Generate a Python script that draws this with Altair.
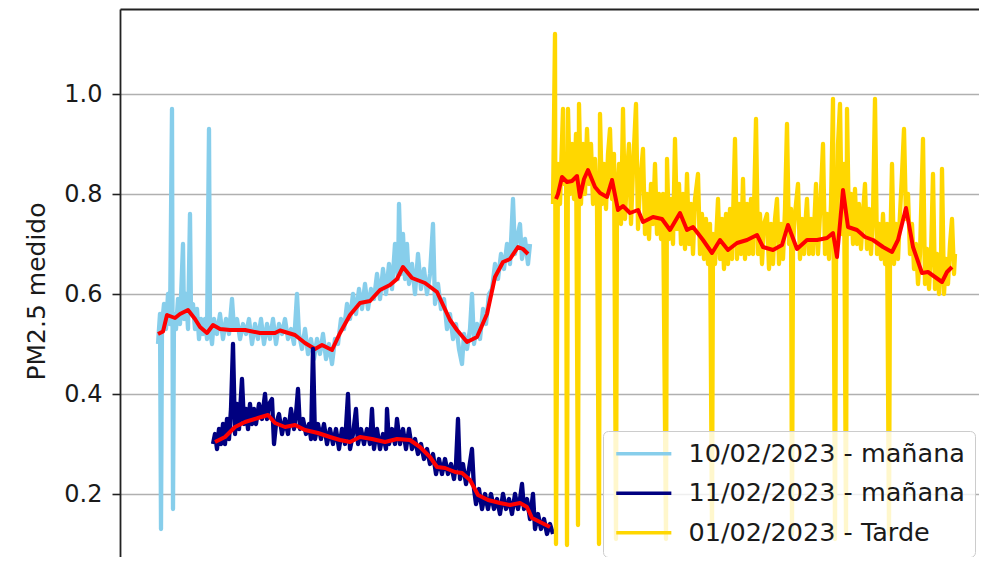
import altair as alt
import pandas as pd

SERIES = ["10/02/2023 - mañana", "11/02/2023 - mañana", "01/02/2023 - Tarde"]
COLORS = ["#87CEEB", "#000080", "#FFD700"]
Y_TICKS = [0.2, 0.4, 0.6, 0.8, 1.0]
Y_TITLE = "PM2.5 medido"

# (sample position, PM2.5)
lb_raw = [(158,0.50),(160,0.56),(161,0.13),(162,0.54),(164,0.58),(166,0.53),(168,0.60),(170,0.54),
          (172,0.97),(173,0.17),(174,0.56),(176,0.53),(178,0.59),(180,0.54),(183,0.70),(184,0.55),
          (186,0.60),(188,0.53),(190,0.76),(191,0.56),(193,0.58),(195,0.53),(197,0.57),(199,0.51),
          (201,0.55),(203,0.52),(205,0.55),(207,0.51),(209,0.93),(210,0.53),(212,0.50),(214,0.55),
          (217,0.52),(220,0.56),(223,0.51),(226,0.55),(229,0.52),(232,0.59),(234,0.53),(237,0.55),
          (240,0.51),(243,0.54),(246,0.52),(249,0.55),(252,0.50),(255,0.54),(258,0.51),(261,0.55),
          (264,0.50),(267,0.54),(270,0.51),(273,0.55),(276,0.50),(279,0.54),(282,0.52),(285,0.55),
          (288,0.51),(291,0.53),(294,0.50),(297,0.60),(299,0.52),(302,0.49),(305,0.53),(308,0.48),
          (311,0.51),(314,0.47),(317,0.51),(320,0.48),(323,0.52),(326,0.47),(329,0.50),(332,0.46),
          (335,0.51),(338,0.50),(341,0.55),(344,0.53),(347,0.58),(350,0.55),(353,0.60),(356,0.56),
          (359,0.61),(362,0.57),(365,0.62),(368,0.57),(371,0.61),(374,0.59),(377,0.64),(380,0.59),
          (383,0.65),(386,0.60),(389,0.66),(392,0.61),(395,0.70),(398,0.63),(399,0.78),(401,0.64),
          (403,0.72),(405,0.63),(407,0.70),(409,0.62),(412,0.66),(415,0.60),(418,0.68),(421,0.61),
          (424,0.65),(427,0.60),(430,0.64),(433,0.74),(435,0.58),(438,0.62),(441,0.57),(444,0.59),
          (447,0.53),(450,0.56),(453,0.51),(456,0.54),(459,0.49),(462,0.46),(464,0.52),(467,0.49),
          (470,0.53),(472,0.60),(474,0.50),(477,0.54),(480,0.51),(483,0.57),(486,0.54),(489,0.60),
          (492,0.61),(495,0.66),(498,0.63),(501,0.68),(504,0.65),(507,0.70),(510,0.66),(513,0.79),
          (515,0.68),(518,0.72),(520,0.74),(522,0.67),(525,0.71),(528,0.66),(530,0.70)]

lb_smooth = [(158,0.52),(163,0.525),(167,0.558),(175,0.552),(180,0.56),(188,0.568),(195,0.55),
             (200,0.534),(207,0.522),(213,0.538),(220,0.53),(230,0.528),(245,0.528),(260,0.522),
             (275,0.522),(280,0.527),(295,0.518),(305,0.502),(315,0.49),(322,0.498),(332,0.488),
             (340,0.522),(350,0.558),(360,0.582),(370,0.586),(380,0.608),(390,0.618),(397,0.63),
             (403,0.654),(412,0.632),(425,0.622),(437,0.604),(450,0.548),(457,0.528),(467,0.504),
             (477,0.514),(487,0.56),(495,0.634),(503,0.664),(510,0.67),(518,0.694),(523,0.69),
             (528,0.68)]

nv_raw = [(213,0.30),(215,0.32),(217,0.29),(219,0.33),(221,0.30),(223,0.34),(225,0.30),(227,0.35),
          (229,0.31),(231,0.37),(233,0.50),(235,0.32),(237,0.38),(239,0.33),(242,0.43),(244,0.34),
          (246,0.37),(248,0.33),(250,0.38),(252,0.34),(254,0.37),(256,0.34),(259,0.38),(262,0.35),
          (265,0.40),(267,0.35),(269,0.38),(272,0.39),(274,0.30),(276,0.34),(279,0.36),(282,0.32),
          (285,0.35),(288,0.32),(291,0.37),(294,0.33),(296,0.36),(298,0.41),(300,0.33),(303,0.35),
          (306,0.32),(309,0.34),(311,0.31),(313,0.49),(315,0.31),(318,0.34),(321,0.31),(324,0.34),
          (327,0.30),(330,0.33),(333,0.30),(336,0.33),(339,0.29),(342,0.33),(345,0.30),(348,0.40),
          (350,0.29),(353,0.32),(356,0.37),(358,0.30),(361,0.33),(364,0.30),(367,0.33),(370,0.30),
          (372,0.37),(374,0.29),(377,0.33),(380,0.29),(383,0.32),(386,0.29),(387,0.37),(389,0.30),
          (392,0.33),(395,0.30),(397,0.35),(400,0.30),(403,0.33),(406,0.29),(409,0.33),(412,0.29),
          (415,0.31),(418,0.28),(421,0.30),(424,0.27),(427,0.29),(430,0.26),(433,0.28),(436,0.24),
          (439,0.27),(442,0.24),(445,0.27),(448,0.24),(451,0.26),(454,0.23),(456,0.26),(458,0.35),
          (460,0.23),(463,0.26),(466,0.22),(469,0.25),(472,0.29),(474,0.21),(476,0.18),(479,0.21),
          (482,0.17),(485,0.20),(488,0.17),(491,0.20),(494,0.17),(497,0.19),(500,0.16),(503,0.20),
          (506,0.17),(509,0.19),(512,0.16),(515,0.20),(518,0.17),(520,0.19),(522,0.22),(524,0.17),
          (527,0.19),(530,0.15),(533,0.20),(535,0.13),(538,0.16),(541,0.13),(544,0.15),(547,0.12),
          (550,0.14),(553,0.12)]

nv_smooth = [(215,0.304),(225,0.314),(235,0.334),(245,0.344),(258,0.352),(268,0.358),(275,0.342),
             (285,0.334),(295,0.338),(305,0.328),(318,0.322),(330,0.314),(340,0.308),(350,0.304),
             (360,0.314),(372,0.31),(385,0.304),(397,0.31),(410,0.308),(420,0.294),(430,0.274),
             (437,0.254),(445,0.252),(455,0.244),(462,0.242),(470,0.228),(478,0.198),(488,0.188),
             (500,0.182),(510,0.178),(520,0.182),(527,0.174),(532,0.152),(540,0.144),(550,0.134)]

gd_raw = [(553,0.78),(555,1.12),(556,0.10),(558,0.86),(560,0.78),(563,0.97),(564,0.82),(566,0.88),
          (567,0.098),(568,0.97),(570,0.80),(572,0.90),(574,0.79),(576,0.92),(578,0.138),(579,0.98),
          (581,0.78),(583,0.90),(585,0.80),(587,0.93),(589,0.82),(591,0.90),(593,0.78),(595,0.87),
          (597,0.78),(599,0.10),(600,0.96),(602,0.78),(604,0.86),(606,0.77),(608,0.88),(610,0.93),
          (612,0.79),(614,0.88),(616,0.11),(617,0.80),(619,0.86),(621,0.74),(623,0.97),(625,0.75),
          (627,0.84),(629,0.90),(631,0.74),(633,0.85),(636,0.98),(638,0.73),(640,0.82),(643,0.89),
          (645,0.72),(647,0.80),(649,0.71),(651,0.82),(653,0.74),(655,0.86),(657,0.72),(659,0.80),
          (661,0.71),(663,0.80),(666,0.11),(667,0.87),(669,0.71),(671,0.79),(673,0.70),(675,0.91),
          (677,0.73),(679,0.82),(681,0.70),(683,0.80),(685,0.69),(687,0.84),(689,0.70),(691,0.78),
          (693,0.68),(695,0.79),(698,0.84),(700,0.68),(702,0.76),(704,0.67),(706,0.75),(708,0.66),
          (710,0.74),(712,0.12),(713,0.72),(715,0.66),(718,0.79),(720,0.67),(722,0.75),(724,0.65),
          (726,0.76),(728,0.66),(730,0.77),(732,0.67),(735,0.91),(737,0.67),(739,0.78),(741,0.68),
          (743,0.83),(745,0.67),(747,0.78),(749,0.68),(751,0.79),(753,0.68),(756,0.95),(758,0.68),
          (760,0.76),(762,0.66),(764,0.74),(767,0.76),(769,0.65),(771,0.74),(773,0.66),(775,0.75),
          (777,0.79),(779,0.66),(781,0.74),(783,0.67),(785,0.77),(787,0.94),(789,0.70),(791,0.77),
          (792,0.12),(793,0.70),(795,0.76),(798,0.82),(800,0.67),(802,0.75),(804,0.68),(806,0.76),
          (807,0.79),(809,0.68),(811,0.75),(813,0.68),(816,0.82),(818,0.68),(820,0.76),(823,0.90),
          (825,0.68),(827,0.76),(829,0.67),(831,0.78),(833,0.99),(835,0.11),(836,0.66),(838,0.90),
          (840,0.98),(842,0.72),(844,0.86),(846,0.12),(847,0.97),(849,0.72),(851,0.80),(853,0.70),
          (855,0.81),(857,0.70),(859,0.78),(861,0.69),(863,0.76),(865,0.82),(867,0.69),(869,0.77),
          (871,0.68),(873,0.76),(875,0.99),(877,0.68),(879,0.74),(881,0.67),(883,0.76),(885,0.66),
          (887,0.74),(889,0.12),(890,0.67),(892,0.86),(894,0.66),(896,0.74),(898,0.67),(900,0.76),
          (902,0.84),(904,0.93),(906,0.75),(908,0.80),(910,0.68),(912,0.74),(914,0.65),(916,0.70),
          (918,0.62),(920,0.68),(923,0.91),(925,0.62),(927,0.69),(929,0.61),(931,0.68),(933,0.84),
          (935,0.61),(937,0.68),(939,0.60),(941,0.67),(942,0.85),(944,0.60),(946,0.67),(948,0.62),
          (950,0.70),(952,0.75),(954,0.64),(955,0.68)]

gd_smooth = [(556,0.79),(558,0.80),(562,0.834),(567,0.824),(572,0.826),(577,0.836),(580,0.794),
             (584,0.83),(588,0.848),(595,0.814),(600,0.802),(607,0.794),(612,0.828),(618,0.768),
             (623,0.776),(630,0.762),(638,0.768),(643,0.744),(653,0.754),(662,0.75),(670,0.728),
             (680,0.762),(687,0.728),(693,0.734),(703,0.708),(712,0.682),(720,0.708),(728,0.688),
             (737,0.702),(747,0.708),(757,0.718),(763,0.694),(773,0.688),(782,0.698),(788,0.738),
             (797,0.69),(807,0.708),(817,0.708),(827,0.712),(833,0.722),(837,0.674),(843,0.808),
             (848,0.734),(857,0.728),(865,0.714),(873,0.708),(883,0.694),(892,0.684),(898,0.708),
             (906,0.772),(913,0.694),(922,0.642),(928,0.644),(935,0.634),(942,0.624),(947,0.644),
             (952,0.654)]

def frame(pairs, serie):
    return pd.DataFrame({"t": [p[0] for p in pairs], "v": [p[1] for p in pairs], "serie": serie})

raw_df = pd.concat([frame(lb_raw, SERIES[0]), frame(nv_raw, SERIES[1]), frame(gd_raw, SERIES[2])],
                   ignore_index=True)
smooth_df = pd.concat([frame(lb_smooth, SERIES[0]), frame(nv_smooth, SERIES[1]),
                       frame(gd_smooth, SERIES[2])], ignore_index=True)

LW_RAW = 4.3
LW_RED = 4.0
x_enc = alt.X("t:Q", scale=alt.Scale(domain=[120, 979], nice=False, zero=False),
              axis=alt.Axis(orient="top", labels=False, ticks=False, grid=False, title=None,
                            domain=True, domainColor="#222222", domainWidth=1.8))
y_enc = alt.Y("v:Q", scale=alt.Scale(domain=[0.074, 1.17], nice=False, zero=False),
              axis=alt.Axis(values=Y_TICKS, format=".1f", title=Y_TITLE,
                            labelFontSize=24, labelFont="DejaVu Sans", labelColor="#1a1a1a",
                            labelPadding=10, tickSize=8, tickWidth=1.6, tickColor="#222222",
                            domainColor="#222222", domainWidth=1.8,
                            grid=True, gridColor="#b0b0b0", gridWidth=1.4,
                            titleFontSize=25, titleFont="DejaVu Sans", titleFontWeight="normal",
                            titleColor="#1a1a1a", titleX=-84, titleY=282, titleAngle=270,
                            titleAlign="center", titleBaseline="middle"))
color_enc = alt.Color("serie:N", scale=alt.Scale(domain=SERIES, range=COLORS),
                      legend=alt.Legend(title=None, orient="none", legendX=483, legendY=422,
                                        symbolType="M-1,0H4.8", symbolSize=361,
                                        symbolStrokeWidth=3.6, symbolOffset=0,
                                        labelFontSize=25.5, labelFont="DejaVu Sans",
                                        labelColor="#1a1a1a", labelOffset=50, rowPadding=12.5,
                                        padding=10, fillColor="rgba(255,255,255,0.8)",
                                        strokeColor="#cccccc", cornerRadius=5,
                                        labelLimit=400))

layers = []
for i, s in enumerate(SERIES):
    raw = alt.Chart(raw_df).transform_filter(alt.datum.serie == s).mark_line(
        strokeWidth=LW_RAW, strokeJoin="round", strokeCap="butt", clip=True
    ).encode(x=x_enc, y=y_enc, color=color_enc, order="t:Q")
    sm = alt.Chart(smooth_df).transform_filter(alt.datum.serie == s).mark_line(
        strokeWidth=LW_RED, strokeJoin="round", color="#ff0000", clip=True
    ).encode(x=x_enc, y=y_enc, order="t:Q")
    layers += [raw, sm]

chart = alt.layer(*layers).properties(
    width=859, height=548,
    autosize=alt.AutoSizeParams(type="none"),
    padding={"left": 112, "top": 1, "right": 0, "bottom": 0},
    background="white",
).configure_view(stroke=None)

chart.save("out.html", embed_options={"renderer": "svg", "actions": False})
